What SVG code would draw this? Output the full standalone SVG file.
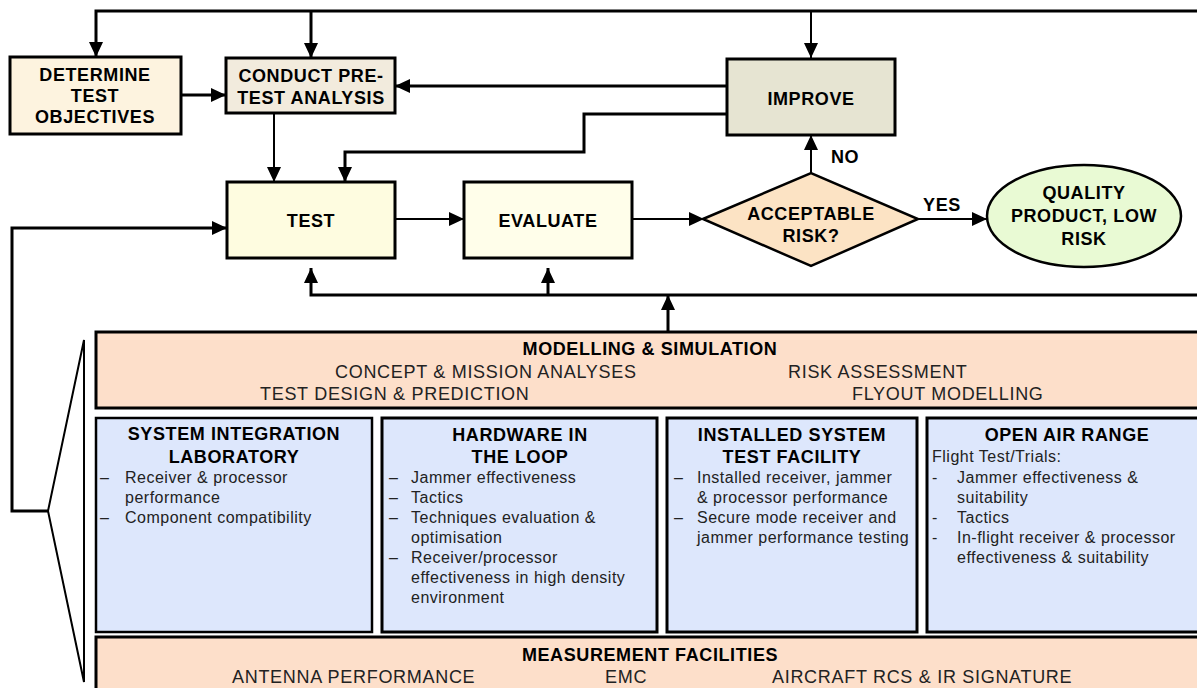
<svg xmlns="http://www.w3.org/2000/svg" width="1197" height="688" viewBox="0 0 1197 688">
<defs>
<style>
.box{stroke:#000;stroke-width:3}
.t{font-family:"Liberation Sans",Arial,sans-serif;font-weight:bold;font-size:18px;letter-spacing:0.6px;fill:#000;text-anchor:middle}
.h{font-family:"Liberation Sans",Arial,sans-serif;font-weight:bold;font-size:18px;letter-spacing:0.6px;fill:#000;text-anchor:middle}
.m{font-family:"Liberation Sans",Arial,sans-serif;font-size:18px;letter-spacing:0.7px;fill:#222}
.b{font-family:"Liberation Sans",Arial,sans-serif;font-size:16px;fill:#222;letter-spacing:0.5px}
.c{fill:none;stroke:#000;stroke-width:2}
.k{fill:none;stroke:#000;stroke-width:3}
</style>
<marker id="ah" markerUnits="userSpaceOnUse" markerWidth="15" markerHeight="14" refX="15" refY="7" orient="auto">
<path d="M0,0 L15,7 L0,14 z" fill="#000"/>
</marker>
</defs>
<rect width="1197" height="688" fill="#fff"/>

<g id="connectors">
<path class="k" d="M1197,11 H96 V57" marker-end="url(#ah)"/>
<path class="k" d="M311,11 V58" marker-end="url(#ah)"/>
<path class="c" d="M811,11 V58" marker-end="url(#ah)"/>
<path class="k" d="M181,95 H226" marker-end="url(#ah)"/>
<path class="k" d="M727,86 H395" marker-end="url(#ah)"/>
<path class="k" d="M727,114 H584 V152 H345 V182" marker-end="url(#ah)"/>
<path class="c" d="M274,113 V182" marker-end="url(#ah)"/>
<path class="c" d="M395,219 H464" marker-end="url(#ah)"/>
<path class="c" d="M632,219 H704" marker-end="url(#ah)"/>
<path class="c" d="M811,173 V135" marker-end="url(#ah)"/>
<path class="c" d="M918,219 H987" marker-end="url(#ah)"/>
<path class="k" d="M1197,295 H311 V268" marker-end="url(#ah)"/>
<path class="k" d="M548,295 V268" marker-end="url(#ah)"/>
<path class="k" d="M668,332 V295" marker-end="url(#ah)"/>
<path class="k" d="M48,511 H12 V228 H227" marker-end="url(#ah)"/>
<path class="c" d="M84,340 L48,511 L84,682 Z"/>
<text class="t" x="845" y="163">NO</text>
<text class="t" x="942" y="211">YES</text>
</g>

<g id="determine">
<rect class="box" x="10" y="57" width="171" height="77" fill="#FDF3DF"/>
<text class="t" x="95" y="81">DETERMINE</text>
<text class="t" x="95" y="102">TEST</text>
<text class="t" x="95" y="123">OBJECTIVES</text>
</g>

<g id="conduct">
<rect class="box" x="226" y="58" width="169" height="55" fill="#F2EBDD"/>
<text class="t" x="311" y="82">CONDUCT PRE-</text>
<text class="t" x="311" y="104">TEST ANALYSIS</text>
</g>

<g id="improve">
<rect class="box" x="727" y="59" width="168" height="76" fill="#E6E4D2"/>
<text class="t" x="811" y="105">IMPROVE</text>
</g>

<g id="test">
<rect class="box" x="227" y="182" width="168" height="76" fill="#FEFCE0"/>
<text class="t" x="311" y="227">TEST</text>
</g>

<g id="evaluate">
<rect class="box" x="464" y="182" width="168" height="76" fill="#FFFEEA"/>
<text class="t" x="548" y="227">EVALUATE</text>
</g>

<g id="acceptable">
<polygon points="703,219 811,173 918,219 811,266" fill="#FCE3C4" stroke="#000" stroke-width="2.5"/>
<text class="t" x="811" y="220">ACCEPTABLE</text>
<text class="t" x="811" y="242">RISK?</text>
</g>

<g id="quality">
<ellipse cx="1084" cy="216" rx="97" ry="51" fill="#E9FAD4" stroke="#000" stroke-width="2.5"/>
<text class="t" x="1084" y="199">QUALITY</text>
<text class="t" x="1084" y="222">PRODUCT, LOW</text>
<text class="t" x="1084" y="245">RISK</text>
</g>

<g id="modelling">
<rect class="box" x="96" y="332" width="1110" height="76" fill="#FDDFCA"/>
<text class="h" x="650" y="355">MODELLING &amp; SIMULATION</text>
<text class="m" x="335" y="378">CONCEPT &amp; MISSION ANALYSES</text>
<text class="m" x="788" y="378">RISK ASSESSMENT</text>
<text class="m" x="260" y="400">TEST DESIGN &amp; PREDICTION</text>
<text class="m" x="852" y="400">FLYOUT MODELLING</text>
</g>

<g id="sil">
<rect x="96" y="418" width="276" height="214" fill="#DDE7FC" stroke="#000" stroke-width="2.5"/>
<text class="h" x="234" y="440">SYSTEM INTEGRATION</text>
<text class="h" x="234" y="463">LABORATORY</text>
<text class="b" x="100" y="483">–</text><text class="b" x="125" y="483">Receiver &amp; processor</text>
<text class="b" x="125" y="503">performance</text>
<text class="b" x="100" y="523">–</text><text class="b" x="125" y="523">Component compatibility</text>
</g>

<g id="hitl">
<rect class="box" x="382" y="418" width="275" height="214" fill="#DDE7FC"/>
<text class="h" x="520" y="441">HARDWARE IN</text>
<text class="h" x="520" y="463">THE LOOP</text>
<text class="b" x="389" y="483">–</text><text class="b" x="411" y="483">Jammer effectiveness</text>
<text class="b" x="389" y="503">–</text><text class="b" x="411" y="503">Tactics</text>
<text class="b" x="389" y="523">–</text><text class="b" x="411" y="523">Techniques evaluation &amp;</text>
<text class="b" x="411" y="543">optimisation</text>
<text class="b" x="389" y="563">–</text><text class="b" x="411" y="563">Receiver/processor</text>
<text class="b" x="411" y="583">effectiveness in high density</text>
<text class="b" x="411" y="603">environment</text>
</g>

<g id="istf">
<rect class="box" x="667" y="418" width="250" height="214" fill="#DDE7FC"/>
<text class="h" x="792" y="441">INSTALLED SYSTEM</text>
<text class="h" x="792" y="463">TEST FACILITY</text>
<text class="b" x="674" y="483">–</text><text class="b" x="697" y="483">Installed receiver, jammer</text>
<text class="b" x="697" y="503">&amp; processor performance</text>
<text class="b" x="674" y="523">–</text><text class="b" x="697" y="523">Secure mode receiver and</text>
<text class="b" x="697" y="543">jammer performance testing</text>
</g>

<g id="oar">
<rect class="box" x="927" y="418" width="280" height="214" fill="#DDE7FC"/>
<text class="h" x="1067" y="441">OPEN AIR RANGE</text>
<text class="b" x="932" y="462">Flight Test/Trials:</text>
<text class="b" x="932" y="483">-</text><text class="b" x="957" y="483">Jammer effectiveness &amp;</text>
<text class="b" x="957" y="503">suitability</text>
<text class="b" x="932" y="523">-</text><text class="b" x="957" y="523">Tactics</text>
<text class="b" x="932" y="543">-</text><text class="b" x="957" y="543">In-flight receiver &amp; processor</text>
<text class="b" x="957" y="563">effectiveness &amp; suitability</text>
</g>

<g id="measurement">
<rect class="box" x="96" y="637" width="1110" height="70" fill="#FDDFCA"/>
<text class="h" x="650" y="661">MEASUREMENT FACILITIES</text>
<text class="m" x="232" y="683">ANTENNA PERFORMANCE</text>
<text class="m" x="605" y="683">EMC</text>
<text class="m" x="772" y="683">AIRCRAFT RCS &amp; IR SIGNATURE</text>
</g>
</svg>
